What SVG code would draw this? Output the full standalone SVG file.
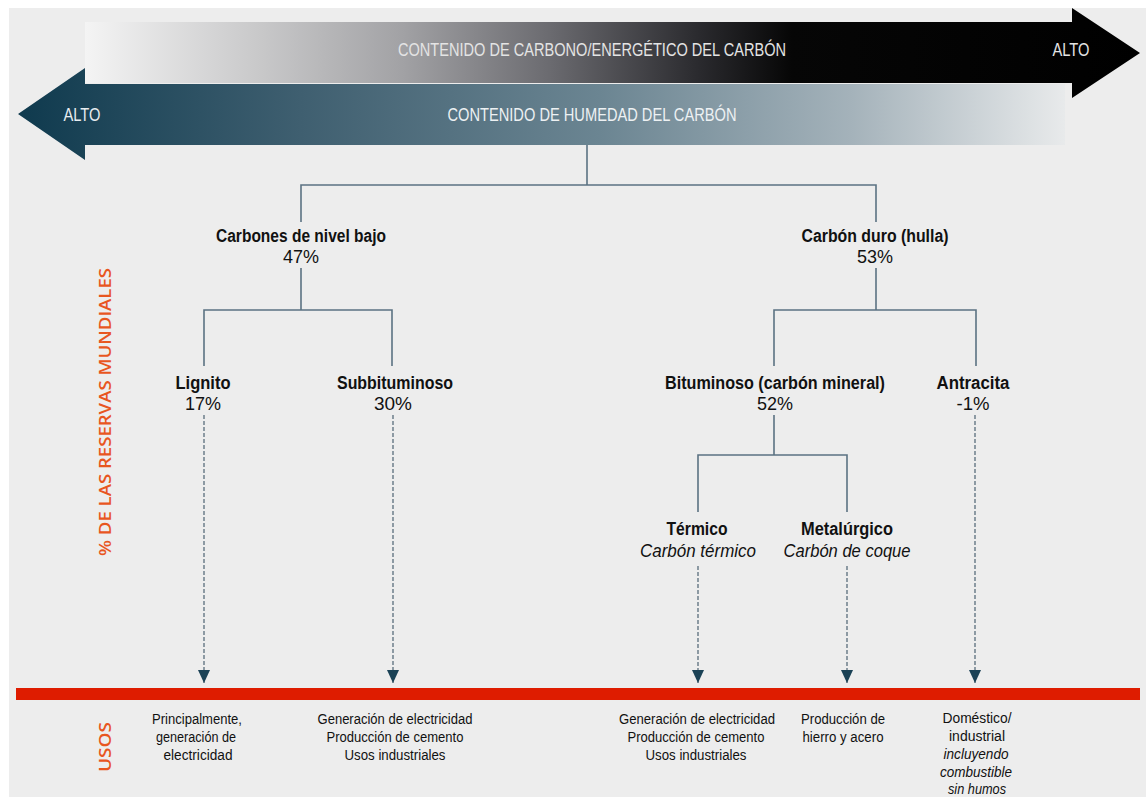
<svg xmlns="http://www.w3.org/2000/svg" width="1146" height="798" viewBox="0 0 1146 798">
<defs>
<linearGradient id="gTop" gradientUnits="userSpaceOnUse" x1="85" y1="0" x2="1140" y2="0">
<stop offset="0" stop-color="#f4f4f4"/>
<stop offset="0.156" stop-color="#cbcbcc"/>
<stop offset="0.30" stop-color="#a2a2a5"/>
<stop offset="0.44" stop-color="#6b6b70"/>
<stop offset="0.58" stop-color="#2b2b2f"/>
<stop offset="0.67" stop-color="#060606"/>
<stop offset="1" stop-color="#000000"/>
</linearGradient>
<linearGradient id="gLow" gradientUnits="userSpaceOnUse" x1="18" y1="0" x2="1065" y2="0">
<stop offset="0" stop-color="#0f3a4e"/>
<stop offset="0.27" stop-color="#3f5f70"/>
<stop offset="0.556" stop-color="#6b8592"/>
<stop offset="0.795" stop-color="#a4b2ba"/>
<stop offset="1" stop-color="#e8eaeb"/>
</linearGradient>
<marker id="ah" viewBox="0 0 13 12" refX="13" refY="6" markerWidth="13" markerHeight="12" markerUnits="userSpaceOnUse" orient="auto">
<path d="M0,0 L13,6 L0,12 Z" fill="#1b4256"/>
</marker>
<style>
.t{font-family:"Liberation Sans",Arial,sans-serif;fill:#111;text-anchor:middle}
.b{font-weight:bold;font-size:18px}
.p{font-size:18px}
.i{font-style:italic;font-size:18px}
.u{font-size:14px}
.ui{font-size:14px;font-style:italic}
.ar{font-family:"Liberation Sans",Arial,sans-serif;font-size:19px;text-anchor:middle}
.side{font-family:"Open Sans","Liberation Sans",sans-serif;font-size:16px;font-weight:600;fill:#e8561f;text-anchor:middle}
.ln{fill:none;stroke:#5b7282;stroke-width:1.6}
.dl{fill:none;stroke:#3f5667;stroke-width:1.1;stroke-dasharray:4 2}
</style>
</defs>
<rect x="0" y="0" width="1146" height="798" fill="#ffffff"/>
<rect x="9" y="8" width="1137" height="789" fill="#ededed"/>

<g id="arrow-carbono">
<polygon points="85,22 1072,22 1072,8 1140,53 1072,98 1072,83 85,83" fill="url(#gTop)"/>
<text class="ar" x="592" y="56" fill="#e4e4e4" textLength="388" lengthAdjust="spacingAndGlyphs">CONTENIDO DE CARBONO/ENERGÉTICO DEL CARBÓN</text>
<text class="ar" x="1071" y="56" fill="#e4e4e4" textLength="37" lengthAdjust="spacingAndGlyphs">ALTO</text>
</g>
<g id="arrow-humedad">
<polygon points="18,114 85,68 85,84 1065,84 1065,145 85,145 85,160" fill="url(#gLow)"/>
<text class="ar" x="82" y="121" fill="#e8edf0" textLength="37" lengthAdjust="spacingAndGlyphs">ALTO</text>
<text class="ar" x="592" y="121" fill="#edf1f3" textLength="289" lengthAdjust="spacingAndGlyphs">CONTENIDO DE HUMEDAD DEL CARBÓN</text>
</g>

<g id="connectors">
<path class="ln" d="M587,145 V185 M301,222 V185 H876 V222"/>
<path class="ln" d="M301,268 V310 M204,366 V310 H392 V366"/>
<path class="ln" d="M876,268 V310 M774,366 V310 H976 V366"/>
<path class="ln" d="M774,415 V455 M698,512 V455 H847 V512"/>
<path class="dl" d="M204,415 V683" marker-end="url(#ah)"/>
<path class="dl" d="M393,415 V683" marker-end="url(#ah)"/>
<path class="dl" d="M698,566 V683" marker-end="url(#ah)"/>
<path class="dl" d="M847,566 V683" marker-end="url(#ah)"/>
<path class="dl" d="M975,415 V683" marker-end="url(#ah)"/>
</g>

<g id="node-bajo">
<text class="t b" x="301" y="242" textLength="170" lengthAdjust="spacingAndGlyphs">Carbones de nivel bajo</text>
<text class="t p" x="301" y="263" textLength="36" lengthAdjust="spacingAndGlyphs">47%</text>
</g>
<g id="node-duro">
<text class="t b" x="875" y="242" textLength="147" lengthAdjust="spacingAndGlyphs">Carbón duro (hulla)</text>
<text class="t p" x="875" y="263" textLength="36" lengthAdjust="spacingAndGlyphs">53%</text>
</g>
<g id="node-lignito">
<text class="t b" x="203" y="389" textLength="55" lengthAdjust="spacingAndGlyphs">Lignito</text>
<text class="t p" x="203" y="410" textLength="36" lengthAdjust="spacingAndGlyphs">17%</text>
</g>
<g id="node-subbituminoso">
<text class="t b" x="395" y="389" textLength="116" lengthAdjust="spacingAndGlyphs">Subbituminoso</text>
<text class="t p" x="393" y="410" textLength="38" lengthAdjust="spacingAndGlyphs">30%</text>
</g>
<g id="node-bituminoso">
<text class="t b" x="775" y="389" textLength="220" lengthAdjust="spacingAndGlyphs">Bituminoso (carbón mineral)</text>
<text class="t p" x="775" y="410" textLength="36" lengthAdjust="spacingAndGlyphs">52%</text>
</g>
<g id="node-antracita">
<text class="t b" x="973" y="389" textLength="73" lengthAdjust="spacingAndGlyphs">Antracita</text>
<text class="t p" x="973" y="410" textLength="33" lengthAdjust="spacingAndGlyphs">-1%</text>
</g>
<g id="node-termico">
<text class="t b" x="697" y="535" textLength="61" lengthAdjust="spacingAndGlyphs">Térmico</text>
<text class="t i" x="698" y="557" textLength="116" lengthAdjust="spacingAndGlyphs">Carbón térmico</text>
</g>
<g id="node-metalurgico">
<text class="t b" x="847" y="535" textLength="92" lengthAdjust="spacingAndGlyphs">Metalúrgico</text>
<text class="t i" x="847" y="557" textLength="127" lengthAdjust="spacingAndGlyphs">Carbón de coque</text>
</g>

<rect id="usos-bar" x="16" y="688" width="1124" height="12" fill="#de1c00"/>

<g id="side-labels">
<text class="side" transform="translate(111,412) rotate(-90)" textLength="288" lengthAdjust="spacingAndGlyphs">% DE LAS RESERVAS MUNDIALES</text>
<text class="side" transform="translate(111,747) rotate(-90)" textLength="50" lengthAdjust="spacingAndGlyphs">USOS</text>
</g>

<g id="uso-lignito">
<text class="t u" x="197" y="724" textLength="90" lengthAdjust="spacingAndGlyphs">Principalmente,</text>
<text class="t u" x="196" y="742" textLength="80" lengthAdjust="spacingAndGlyphs">generación de</text>
<text class="t u" x="198" y="760" textLength="69" lengthAdjust="spacingAndGlyphs">electricidad</text>
</g>
<g id="uso-subbituminoso">
<text class="t u" x="395" y="724" textLength="155" lengthAdjust="spacingAndGlyphs">Generación de electricidad</text>
<text class="t u" x="395" y="742" textLength="137" lengthAdjust="spacingAndGlyphs">Producción de cemento</text>
<text class="t u" x="395" y="760" textLength="101" lengthAdjust="spacingAndGlyphs">Usos industriales</text>
</g>
<g id="uso-termico">
<text class="t u" x="697" y="724" textLength="156" lengthAdjust="spacingAndGlyphs">Generación de electricidad</text>
<text class="t u" x="696" y="742" textLength="137" lengthAdjust="spacingAndGlyphs">Producción de cemento</text>
<text class="t u" x="696" y="760" textLength="101" lengthAdjust="spacingAndGlyphs">Usos industriales</text>
</g>
<g id="uso-metalurgico">
<text class="t u" x="843" y="724" textLength="84" lengthAdjust="spacingAndGlyphs">Producción de</text>
<text class="t u" x="843" y="742" textLength="81" lengthAdjust="spacingAndGlyphs">hierro y acero</text>
</g>
<g id="uso-antracita">
<text class="t u" x="977" y="723" textLength="69" lengthAdjust="spacingAndGlyphs">Doméstico/</text>
<text class="t u" x="977" y="741" textLength="56" lengthAdjust="spacingAndGlyphs">industrial</text>
<text class="t ui" x="976" y="759" textLength="65" lengthAdjust="spacingAndGlyphs">incluyendo</text>
<text class="t ui" x="976" y="777" textLength="72" lengthAdjust="spacingAndGlyphs">combustible</text>
<text class="t ui" x="977" y="794" textLength="58" lengthAdjust="spacingAndGlyphs">sin humos</text>
</g>
</svg>
